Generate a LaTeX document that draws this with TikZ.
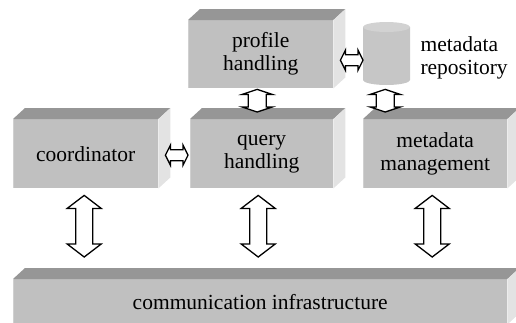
\documentclass[tikz,border=0pt]{standalone}
\usepackage{fontspec}
\setmainfont{Liberation Serif}
\usetikzlibrary{calc}
\definecolor{frontc}{HTML}{C0C0C0}
\definecolor{topc}{HTML}{969696}
\definecolor{sidec}{HTML}{E3E3E3}
\definecolor{edgec}{HTML}{D0D0D0}
\definecolor{cylbody}{HTML}{C6C6C6}
\definecolor{cyltop}{HTML}{D2D2D2}
\tikzset{
 lbl/.style={font=\rmfamily\fontsize{21.5}{23}\selectfont, align=center},
 front/.style={fill=frontc, inner sep=0pt, anchor=north west, lbl},
 arrowbox/.style={draw=black, fill=white, line width=1.3pt, line join=miter},
 vdbl/.style n args={3}{to path={let \p1=(\tikztostart), \p2=(\tikztotarget) in
   (\x1,\y1) -- (\x1+#1,\y1-#3) -- (\x1+#2,\y1-#3) -- (\x1+#2,\y2+#3) -- (\x1+#1,\y2+#3) -- (\x1,\y2)
   -- (\x1-#1,\y2+#3) -- (\x1-#2,\y2+#3) -- (\x1-#2,\y1-#3) -- (\x1-#1,\y1-#3) -- cycle}},
 hdbl/.style n args={3}{to path={let \p1=(\tikztostart), \p2=(\tikztotarget) in
   (\x1,\y1) -- (\x1+#3,\y1+#1) -- (\x1+#3,\y1+#2) -- (\x2-#3,\y1+#2) -- (\x2-#3,\y1+#1) -- (\x2,\y1)
   -- (\x2-#3,\y1-#1) -- (\x2-#3,\y1-#2) -- (\x1+#3,\y1-#2) -- (\x1+#3,\y1-#1) -- cycle}},
}
\newcommand\boxfaces[1]{%
  \fill[topc] (#1.north west) -- ++(12,-11) -- ($(#1.north east)+(12,-11)$) -- (#1.north east) -- cycle;
  \fill[sidec] (#1.north east) -- ++(12,-11) -- ($(#1.south east)+(12,-11)$) -- (#1.south east) -- cycle;
  \draw[edgec, line width=1.2pt] ([xshift=0.6pt]#1.north west) -- ([xshift=0.6pt]#1.south west);
}
\begin{document}
\begin{tikzpicture}[x=1pt, y=-1pt]
\useasboundingbox (0,0) rectangle (516,322);
% boxes
\node[front, minimum width=145pt, minimum height=68pt] (prof) at (188,20) {profile\\handling};
\boxfaces{prof}
\node[front, minimum width=145pt, minimum height=69pt] (coord) at (13,119) {coordinator};
\boxfaces{coord}
\node[front, minimum width=143pt, minimum height=69pt] (query) at (190,119) {query\\handling};
\boxfaces{query}
\node[front, minimum width=144pt, minimum height=69pt] (mgmt) at (363,119) {metadata\\management};
\boxfaces{mgmt}
\node[front, minimum width=494pt, minimum height=45pt] (comm) at (13,279) {communication infrastructure};
\boxfaces{comm}
% repository cylinder
\node[minimum width=47pt, minimum height=63pt, inner sep=0pt, anchor=north west] (repo) at (363,22) {};
\fill[cylbody] (363,27) -- (363,80) arc[start angle=180, end angle=0, x radius=23.5, y radius=5] -- (410,27) -- cycle;
\fill[cyltop] (386.5,27) ellipse[x radius=23.5, y radius=5];
\node[lbl, align=left, anchor=west] (repolbl) at (417,58) {metadata\\repository};
% connectors
\draw[arrowbox, vdbl={17pt}{8.5pt}{13pt}] ([shift={(-1.5,7)}]coord.south) to ([shift={(-1.5,-22)}]comm.north);
\draw[arrowbox, vdbl={17pt}{8.5pt}{13pt}] ([shift={(-3.5,7)}]query.south) to ([shift={(-3.5,-22)}]comm.north);
\draw[arrowbox, vdbl={17pt}{8.5pt}{13pt}] ([shift={(-3,7)}]mgmt.south) to ([shift={(-3,-22)}]comm.north);
\draw[arrowbox, vdbl={15pt}{9pt}{5pt}] ([shift={(-3.5,1)}]prof.south) to ([shift={(-3.5,-7)}]query.north);
\draw[arrowbox, vdbl={15pt}{9pt}{5pt}] ([shift={(-1.5,4)}]repo.south) to ([shift={(-1.5,-7)}]mgmt.north);
\draw[arrowbox, hdbl={10pt}{5.5pt}{5pt}] ([shift={(7,1.5)}]coord.east) to ([shift={(-2,1.5)}]query.west);
\draw[arrowbox, hdbl={10pt}{5.5pt}{5pt}] ([shift={(7,6)}]prof.east) to ([shift={(0,6.5)}]repo.west);
\end{tikzpicture}
\end{document}
